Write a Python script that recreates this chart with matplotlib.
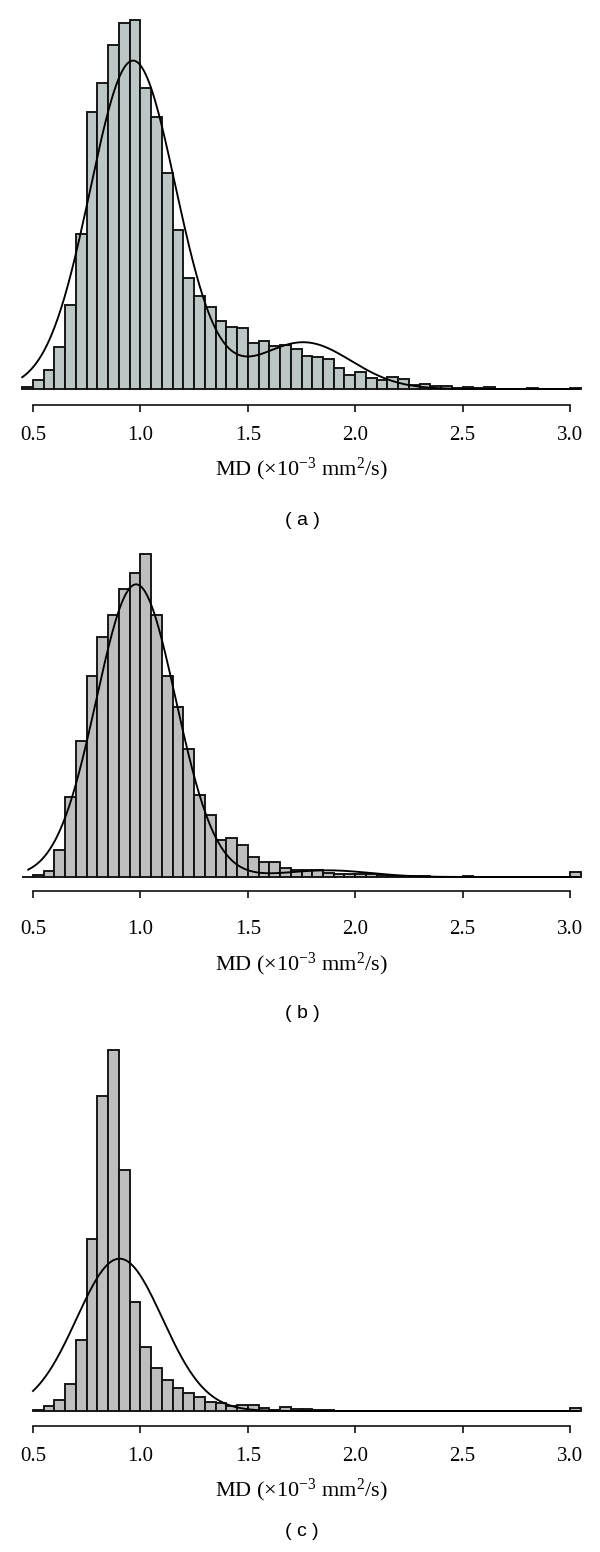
import numpy as np
import matplotlib.pyplot as plt

plt.rcParams['font.family'] = ['Liberation Serif', 'DejaVu Serif']
plt.rcParams['mathtext.fontset'] = 'custom'
plt.rcParams['mathtext.rm'] = 'Liberation Serif'
plt.rcParams['mathtext.it'] = 'Liberation Serif:italic'

BIN = 0.05
tick_values = [0.5, 1.0, 1.5, 2.0, 2.5, 3.0]
tick_labels = ['0.5', '1.0', '1.5', '2.0', '2.5', '3.0']
xlabel = r'MD ($\times$10$^{-3}$ mm$^{2}$/s)'

# ---- panel (a) ----
a_start = 0.45
a_counts = [5, 28, 56, 125, 253, 465, 830, 918, 1031, 1098,
            1106, 903, 816, 649, 478, 332, 279, 247, 204, 186,
            182, 138, 144, 128, 132, 121, 99, 96, 90, 64,
            42, 52, 34, 28, 36, 30, 12, 14, 8, 10,
            3, 5, 2, 6, 1, 0, 1, 3, 1, 0,
            0, 4]
a_means = [0.966, 1.76]
a_sds = [0.20, 0.22]
a_peaks = [985, 140]
a_range = [0.45, 3.04]

# ---- panel (b) ----
b_start = 0.45
b_counts = [1, 5, 17, 80, 240, 407, 602, 720, 787, 863,
            913, 970, 787, 602, 510, 385, 245, 185, 110, 118,
            97, 60, 46, 46, 27, 20, 20, 22, 12, 10,
            10, 8, 8, 5, 4, 3, 2, 2, 1, 0,
            0, 3, 0, 0, 0, 0, 0, 0, 0, 0,
            0, 15]
b_means = [0.98, 1.87]
b_sds = [0.185, 0.20]
b_peaks = [878, 20]
b_range = [0.478, 3.04]

# ---- panel (c) ----
c_start = 0.50
c_counts = [2, 14, 34, 80, 214, 515, 946, 1084, 724, 327,
            191, 128, 92, 70, 55, 42, 26, 24, 14, 18,
            18, 10, 4, 11, 6, 5, 3, 2, 1, 1,
            1, 1, 0, 0, 0, 0, 0, 0, 0, 0,
            0, 0, 0, 0, 0, 0, 0, 0, 0, 0,
            10]
c_means = [0.903]
c_sds = [0.20]
c_peaks = [457]
c_range = [0.50, 3.04]

W, H = 600, 1552
fig = plt.figure(figsize=(W / 100, H / 100), dpi=100)

panels = [
    dict(start=a_start, counts=a_counts, means=a_means, sds=a_sds, peaks=a_peaks,
         rng=a_range, color='#bcc6c4', top=15, base=389, off=16, lab=433,
         xlab=469, cap=521, tag='( a )'),
    dict(start=b_start, counts=b_counts, means=b_means, sds=b_sds, peaks=b_peaks,
         rng=b_range, color='#bebebe', top=540, base=877, off=14, lab=927,
         xlab=964, cap=1013, tag='( b )'),
    dict(start=c_start, counts=c_counts, means=c_means, sds=c_sds, peaks=c_peaks,
         rng=c_range, color='#bebebe', top=1040, base=1411, off=15, lab=1454,
         xlab=1490, cap=1532, tag='( c )'),
]

x_left_px, x_right_px = 11.5, 591.5  # pixel columns of x = 0.4 and x = 3.1

for p in panels:
    ax = fig.add_axes([x_left_px / W, 1 - p['base'] / H,
                       (x_right_px - x_left_px) / W, (p['base'] - p['top']) / H])
    edges = p['start'] + BIN * np.arange(len(p['counts']))
    ax.bar(edges, p['counts'], width=BIN, align='edge', color=p['color'],
           edgecolor='#111111', linewidth=1.35, clip_on=False)

    xs = np.linspace(p['rng'][0], p['rng'][1], 500)
    ys = np.zeros_like(xs)
    for m, s, pk in zip(p['means'], p['sds'], p['peaks']):
        ys += pk * np.exp(-0.5 * ((xs - m) / s) ** 2)
    ax.plot(xs, ys, color='black', lw=1.35, clip_on=False)

    ax.set_xlim(0.4, 3.1)
    ax.set_ylim(0, 3 * (p['base'] - p['top']))
    for s in ['top', 'right', 'left']:
        ax.spines[s].set_visible(False)
    ax.spines['bottom'].set_position(('outward', p['off'] * 0.72))
    ax.spines['bottom'].set_bounds(0.5, 3.0)
    ax.spines['bottom'].set_linewidth(1.2)
    ax.spines['bottom'].set_color('#111111')
    ax.set_yticks([])
    ax.set_xticks(tick_values)
    ax.set_xticklabels(tick_labels)
    # pad so that label centre lands at the measured row
    pad_px = p['lab'] - (p['base'] + p['off']) - 6.5 - 7.2
    ax.tick_params(axis='x', length=4.7, width=1.2, labelsize=15,
                   pad=pad_px * 0.72, color='#111111')

    fig.text(301.5 / W, 1 - p['xlab'] / H, xlabel, ha='center', va='center',
             fontsize=16)
    fig.text(302 / W, 1 - p['cap'] / H, p['tag'], ha='center', va='center',
             fontsize=14, family=['Liberation Sans', 'DejaVu Sans'])

fig.savefig('out.png', dpi=100)
